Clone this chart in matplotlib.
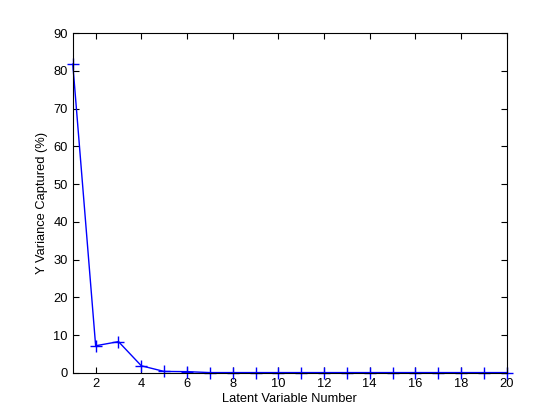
import numpy as np
import matplotlib
matplotlib.use('Agg')
import matplotlib.pyplot as plt

plt.rcParams['font.family'] = ['Liberation Sans', 'DejaVu Sans']

latentVars = list(range(1, 21))
yVariance = [81.8, 7.2, 8.3, 1.9, 0.4, 0.35, 0.1, 0.1, 0.1, 0.1,
             0.1, 0.1, 0.1, 0.1, 0.1, 0.1, 0.1, 0.1, 0.1, 0.1]

fig = plt.figure(figsize=(5.6, 4.2), dpi=100)
ax = fig.add_axes([0.13, 0.112, 0.775, 0.809])
ax.plot(latentVars, yVariance, color='blue', marker='+', markersize=8,
        linewidth=1, markeredgewidth=1, clip_on=False)
ax.set_xlim(1, 20)
ax.set_ylim(0, 90)
ax.set_xticks(range(2, 21, 2))
ax.set_yticks(range(0, 91, 10))
ax.tick_params(direction='in', top=True, right=True, labelsize=9.3, length=4)
ax.set_xlabel('Latent Variable Number', fontsize=9.3, labelpad=2)
ax.set_ylabel('Y Variance Captured (%)', fontsize=9.3)
for s in ax.spines.values():
    s.set_linewidth(0.8)
fig.savefig('out.png', dpi=100)
